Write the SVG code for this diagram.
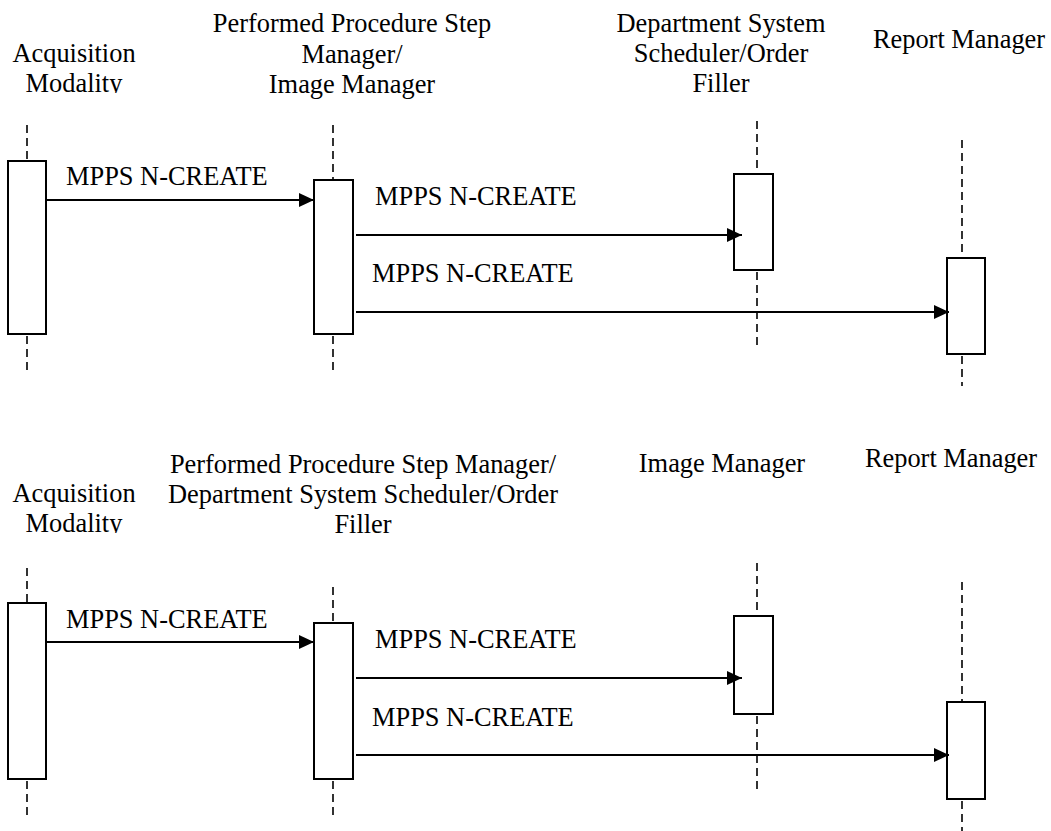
<svg xmlns="http://www.w3.org/2000/svg" width="1051" height="831" viewBox="0 0 1051 831">
<style>
text{font-family:'Liberation Serif','Times New Roman',Times,Tinos,'DejaVu Serif',serif;font-size:26.4px;fill:#000}
.c{text-anchor:middle}
.life{stroke:#000;stroke-width:1.6;stroke-dasharray:8 5;fill:none}
.act{fill:#fff;stroke:#000;stroke-width:2}
.msg{stroke:#000;stroke-width:2.2;fill:none;marker-end:url(#ah)}
</style>
<defs>
<marker id="ah" markerUnits="userSpaceOnUse" viewBox="0 0 15 14" refX="15" refY="7" markerWidth="15" markerHeight="14" orient="auto">
<path d="M0,0 L15,7 L0,14 Z" fill="#000"/>
</marker>
<clipPath id="clipTop"><rect x="0" y="0" width="200" height="93"/></clipPath>
<clipPath id="clipBot"><rect x="0" y="440" width="200" height="93"/></clipPath>
</defs>

<g id="top-acq">
<text class="c" x="74" y="62">Acquisition</text>
<text class="c" x="74" y="92" clip-path="url(#clipTop)">Modality</text>
<line class="life" x1="27" y1="125" x2="27" y2="161"/>
<line class="life" x1="27" y1="336" x2="27" y2="375"/>
<rect class="act" x="8" y="161" width="38" height="173"/>
</g>
<g id="top-pps">
<text class="c" x="352" y="32">Performed Procedure Step</text>
<text class="c" x="352" y="63">Manager/</text>
<text class="c" x="352" y="93">Image Manager</text>
<line class="life" x1="333" y1="125" x2="333" y2="180"/>
<line class="life" x1="333" y1="336" x2="333" y2="374"/>
<rect class="act" x="314" y="180" width="39" height="154"/>
</g>
<g id="top-dss">
<text class="c" x="721" y="32">Department System</text>
<text class="c" x="721" y="62">Scheduler/Order</text>
<text class="c" x="721" y="92">Filler</text>
<line class="life" x1="757" y1="121" x2="757" y2="174"/>
<line class="life" x1="757" y1="272" x2="757" y2="350"/>
<rect class="act" x="734" y="174" width="39" height="96"/>
</g>
<g id="top-rm">
<text class="c" x="959" y="48">Report Manager</text>
<line class="life" x1="962" y1="140" x2="962" y2="258"/>
<line class="life" x1="962" y1="356" x2="962" y2="386"/>
<rect class="act" x="947" y="258" width="38" height="96"/>
</g>

<g id="bot-acq">
<text class="c" x="74" y="502">Acquisition</text>
<text class="c" x="74" y="532" clip-path="url(#clipBot)">Modality</text>
<line class="life" x1="27" y1="568" x2="27" y2="603"/>
<line class="life" x1="27" y1="781" x2="27" y2="818"/>
<rect class="act" x="8" y="603" width="38" height="176"/>
</g>
<g id="bot-pps">
<text class="c" x="363" y="473">Performed Procedure Step Manager/</text>
<text class="c" x="363" y="503">Department System Scheduler/Order</text>
<text class="c" x="363" y="533">Filler</text>
<line class="life" x1="333" y1="587" x2="333" y2="623"/>
<line class="life" x1="333" y1="781" x2="333" y2="818"/>
<rect class="act" x="314" y="623" width="39" height="156"/>
</g>
<g id="bot-im">
<text class="c" x="722" y="472">Image Manager</text>
<line class="life" x1="757" y1="563" x2="757" y2="616"/>
<line class="life" x1="757" y1="716" x2="757" y2="794"/>
<rect class="act" x="734" y="616" width="39" height="98"/>
</g>
<g id="bot-rm">
<text class="c" x="951" y="467">Report Manager</text>
<line class="life" x1="962" y1="582" x2="962" y2="702"/>
<line class="life" x1="962" y1="801" x2="962" y2="831"/>
<rect class="act" x="947" y="702" width="38" height="97"/>
</g>

<g id="connectors">
<line class="msg" x1="47" y1="200" x2="314" y2="200"/>
<text x="66" y="185">MPPS N-CREATE</text>
<line class="msg" x1="356" y1="235" x2="742" y2="235"/>
<text x="375" y="205">MPPS N-CREATE</text>
<line class="msg" x1="356" y1="312" x2="949" y2="312"/>
<text x="372" y="282">MPPS N-CREATE</text>

<line class="msg" x1="47" y1="642" x2="314" y2="642"/>
<text x="66" y="628">MPPS N-CREATE</text>
<line class="msg" x1="356" y1="678" x2="742" y2="678"/>
<text x="375" y="648">MPPS N-CREATE</text>
<line class="msg" x1="356" y1="755" x2="949" y2="755"/>
<text x="372" y="726">MPPS N-CREATE</text>
</g>
</svg>
